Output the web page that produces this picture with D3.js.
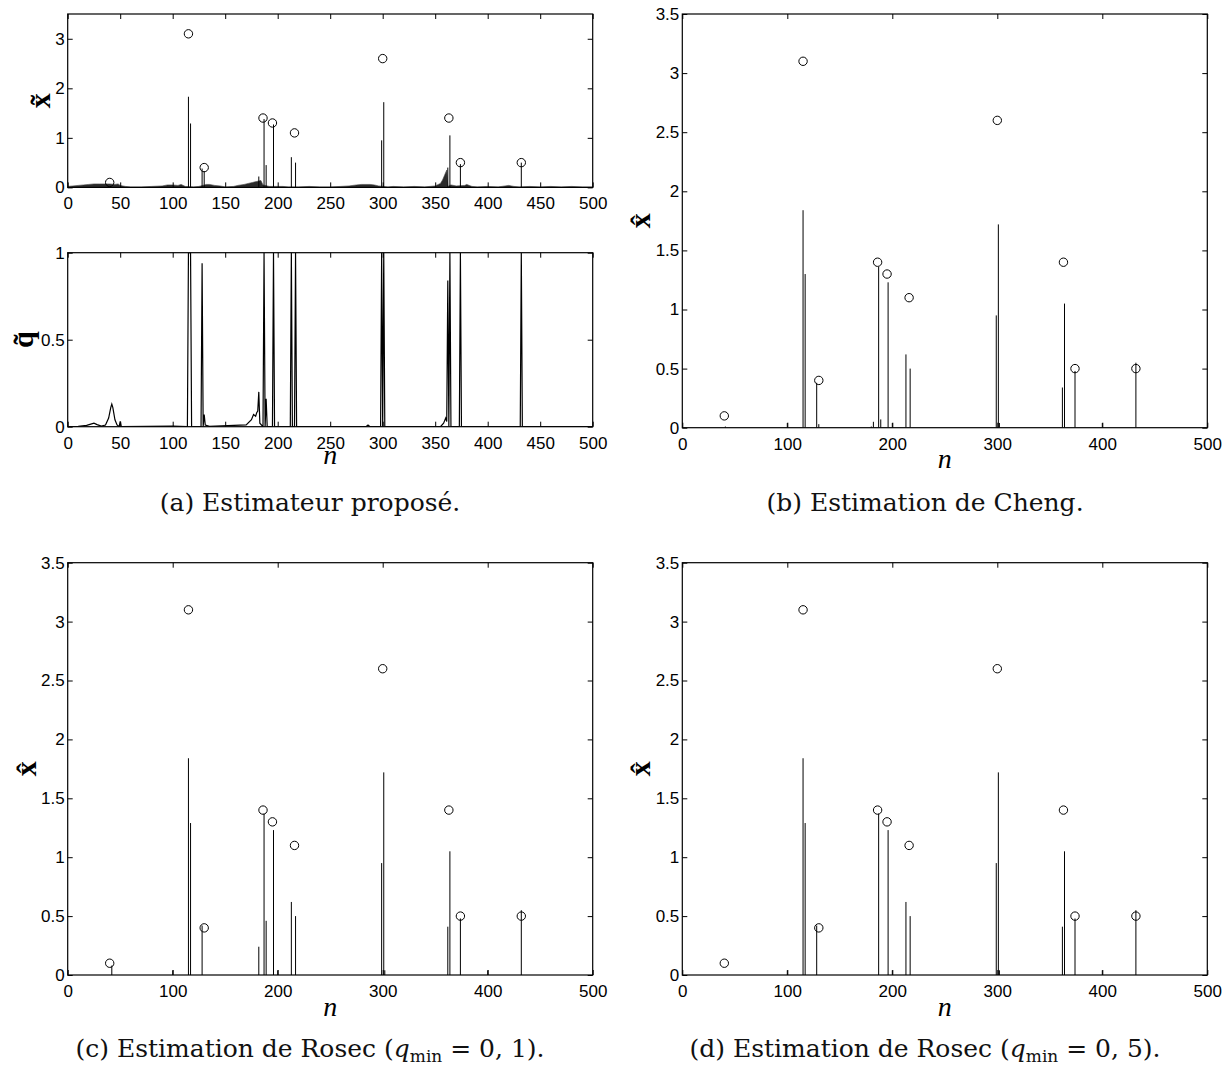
<!DOCTYPE html>
<html><head><meta charset="utf-8">
<script src="https://cdn.jsdelivr.net/npm/d3@7"></script>
<style>body{margin:0;background:#fff}svg{display:block}</style>
</head><body>
<script>
// ---- data ----
const xTicksA = [0,50,100,150,200,250,300,350,400,450,500];
const xTicksB = [0,100,200,300,400,500];
const yTicksA1 = [0,1,2,3];
const yTicksA2 = [0,0.5,1];
const yTicksB = [0,0.5,1,1.5,2,2.5,3,3.5];

// true signal (circles)
const trueN = [40,115,130,186,195,216,300,363,374,432];
const trueV = [0.1,3.1,0.4,1.4,1.3,1.1,2.6,1.4,0.5,0.5];

// (a) proposed estimator, main stems
const propN = [115,117,128,130,182,187,189,196,213,217,299,301,362,364,374,432];
const propV = [1.83,1.29,0.38,0.33,0.22,1.38,0.45,1.27,0.61,0.50,0.95,1.72,0.40,1.05,0.47,0.50];
// (a) proposed estimator, low-level floor envelope [n, value]
const floorN = [0,5,10,15,20,25,30,35,40,45,48,50,55,60,70,80,90,95,100,105,108,112,120,125,132,135,140,145,150,158,162,168,172,176,180,184,186,192,200,205,210,220,230,240,250,260,268,275,280,288,292,296,305,310,320,330,340,350,355,357,359,361,362,365,370,378,380,385,390,400,410,420,425,430,440,450,460,470,480,490,500];
const floorV = [0.02,0.03,0.04,0.05,0.06,0.07,0.07,0.07,0.07,0.06,0.07,0.04,0.02,0.01,0.01,0.02,0.03,0.05,0.05,0.04,0.06,0.02,0.01,0.02,0.06,0.06,0.04,0.03,0.01,0.02,0.04,0.06,0.08,0.1,0.12,0.14,0.05,0.02,0.02,0.02,0.01,0.01,0.02,0.01,0.01,0.02,0.03,0.05,0.06,0.06,0.05,0.03,0.01,0.02,0.01,0.02,0.01,0.03,0.08,0.15,0.25,0.35,0.02,0.05,0.03,0.04,0.06,0.02,0.01,0.02,0.01,0.04,0.02,0.01,0.02,0.01,0.02,0.01,0.02,0.01,0.01];

// (a) q~ curve
const qN = [0,10,18,22,25,28,32,36,39,41,42,43,45,47,49,50,51,100,114,115,117,118,127,128,129,130,131,135,170,175,177,179,180,181,182,183,186,187,188,189,190,195,196,197,212,213,214,216,217,218,284,286,288,298,299,300,301,302,355,358,360,361,362,363,364,365,373,374,375,431,432,433,500];
const qV = [0,0.002,0.008,0.015,0.02,0.012,0.003,0.01,0.05,0.11,0.13,0.11,0.04,0.01,0,0.03,0,0.003,0,1,1,0,0,0.94,0,0.07,0.01,0.002,0.01,0.04,0.07,0.06,0.08,0.09,0.2,0.02,0,1,0,0.16,0,0,1,0,0,1,0,0,1,0,0,0.01,0,0,1,0,1,0,0,0.02,0.05,0.03,0.84,0,1,0,0,1,0,0,1,0,0];

// (b) Cheng
const chengN = [41,100,115,117,128,130,180,182,187,189,196,200,213,217,299,301,302,362,364,374,400,432];
const chengV = [0.01,0.04,1.84,1.30,0.38,0.03,0.01,0.05,1.36,0.07,1.23,0.04,0.62,0.50,0.95,1.72,0.04,0.34,1.05,0.48,0.04,0.55];

// (c) Rosec q_min = 0,1
const rosec1N = [42,100,115,117,128,182,187,189,196,200,213,217,299,301,302,362,364,374,400,432];
const rosec1V = [0.08,0.04,1.84,1.29,0.42,0.24,1.37,0.46,1.23,0.04,0.62,0.50,0.95,1.72,0.04,0.41,1.05,0.48,0.04,0.55];

// (d) Rosec q_min = 0,5
const rosec5N = [100,115,117,128,187,196,200,213,217,299,301,302,362,364,374,400,432];
const rosec5V = [0.04,1.84,1.29,0.42,1.37,1.23,0.04,0.62,0.50,0.95,1.72,0.04,0.41,1.05,0.48,0.04,0.55];

// ---- drawing ----
const W = 1231, H = 1066;
const svg = d3.select("body").append("svg").attr("width", W).attr("height", H);
const TICKFONT = "'Liberation Sans', Arial, sans-serif";
const SERIF = "'Liberation Serif', 'Times New Roman', serif";
const CAPFONT = "'DejaVu Serif', serif";
const fmt = d3.format("~g");
let clipId = 0;

function panel(o) {
  const x = d3.scaleLinear().domain([0, 500]).range([o.x0, o.x1]);
  const y = d3.scaleLinear().domain([0, o.ymax]).range([o.y1, o.y0]);
  const g = svg.append("g");
  const id = "clip" + (clipId++);
  g.append("clipPath").attr("id", id).append("rect")
    .attr("x", o.x0).attr("y", o.y0).attr("width", o.x1 - o.x0).attr("height", o.y1 - o.y0);
  const plot = g.append("g").attr("clip-path", `url(#${id})`);

  const axB = g.append("g").attr("transform", `translate(0,${o.y1})`)
    .call(d3.axisBottom(x).tickValues(o.xticks).tickFormat(fmt).tickSizeInner(-5).tickSizeOuter(0).tickPadding(10));
  const axT = g.append("g").attr("transform", `translate(0,${o.y0})`)
    .call(d3.axisTop(x).tickValues(o.xticks).tickSizeInner(-5).tickSizeOuter(0).tickFormat(""));
  const axL = g.append("g").attr("transform", `translate(${o.x0},0)`)
    .call(d3.axisLeft(y).tickValues(o.yticks).tickFormat(fmt).tickSizeInner(-5).tickSizeOuter(0).tickPadding(3));
  const axR = g.append("g").attr("transform", `translate(${o.x1},0)`)
    .call(d3.axisRight(y).tickValues(o.yticks).tickSizeInner(-5).tickSizeOuter(0).tickFormat(""));
  [axB, axT, axL, axR].forEach(a => {
    a.select(".domain").remove();
    a.selectAll("line").attr("stroke", "#000").attr("stroke-width", 1);
    a.selectAll("text").attr("font-family", TICKFONT).attr("font-size", 17).attr("fill", "#000");
  });
  g.append("rect").attr("x", o.x0).attr("y", o.y0).attr("width", o.x1 - o.x0).attr("height", o.y1 - o.y0)
    .attr("fill", "none").attr("stroke", "#000").attr("stroke-width", 1.2);

  if (o.ylab) {
    g.append("text").attr("transform", `translate(${o.ylabX},${(o.y0 + o.y1) / 2}) rotate(-90)`)
      .attr("text-anchor", "middle").attr("font-family", SERIF).attr("font-weight", "bold")
      .attr("font-size", 30).text(o.ylab);
  }
  if (o.xlab) {
    g.append("text").attr("x", (o.x0 + o.x1) / 2).attr("y", o.y1 + o.xlabDy)
      .attr("text-anchor", "middle").attr("font-family", SERIF).attr("font-style", "italic")
      .attr("font-size", 28).text("n");
  }
  return { x, y, plot, g };
}

function stems(p, N, V) {
  p.plot.selectAll(null).data(N.map((n, i) => [n, V[i]])).enter().append("line")
    .attr("x1", d => p.x(d[0])).attr("x2", d => p.x(d[0]))
    .attr("y1", p.y(0)).attr("y2", d => p.y(d[1]))
    .attr("stroke", "#000").attr("stroke-width", 1);
}
function circles(p, N, V) {
  p.g.selectAll(null).data(N.map((n, i) => [n, V[i]])).enter().append("circle")
    .attr("cx", d => p.x(d[0])).attr("cy", d => p.y(d[1])).attr("r", 4.2)
    .attr("fill", "none").attr("stroke", "#000").attr("stroke-width", 1);
}
function caption(cx, y, parts) {
  const t = svg.append("text").attr("x", cx).attr("y", y).attr("text-anchor", "middle")
    .attr("font-family", CAPFONT).attr("font-size", 25).attr("fill", "#111");
  parts.forEach(pt => {
    const s = t.append("tspan").text(pt.t);
    if (pt.it) s.attr("font-style", "italic");
    if (pt.dy) s.attr("dy", pt.dy);
    if (pt.fs) s.attr("font-size", pt.fs);
  });
}

// (a) top
const pA1 = panel({ x0: 67.7, x1: 592.7, y0: 14, y1: 187.4, ymax: 3.5, xticks: xTicksA, yticks: yTicksA1,
  ylab: "x\u0303", ylabX: 50 });
pA1.plot.append("path").datum(floorN.map((n, i) => [n, floorV[i]]))
  .attr("d", d3.area().x(d => pA1.x(d[0])).y0(pA1.y(0)).y1(d => pA1.y(d[1])))
  .attr("fill", "#2a2a2a").attr("stroke", "#444").attr("stroke-width", 0.6);
stems(pA1, propN, propV);
circles(pA1, trueN, trueV);

// (a) bottom
const pA2 = panel({ x0: 67.7, x1: 592.7, y0: 252.7, y1: 426.7, ymax: 1, xticks: xTicksA, yticks: yTicksA2,
  ylab: "q\u0303", ylabX: 33, xlab: true, xlabDy: 37 });
pA2.plot.append("path").datum(qN.map((n, i) => [n, qV[i]]))
  .attr("d", d3.line().x(d => pA2.x(d[0])).y(d => pA2.y(d[1])))
  .attr("fill", "none").attr("stroke", "#000").attr("stroke-width", 1.2);

// (b)
const pB = panel({ x0: 682.3, x1: 1207.3, y0: 14, y1: 427.7, ymax: 3.5, xticks: xTicksB, yticks: yTicksB,
  ylab: "x\u0302", ylabX: 650, xlab: true, xlabDy: 40 });
stems(pB, chengN, chengV);
circles(pB, trueN, trueV);

// (c)
const pC = panel({ x0: 67.7, x1: 592.7, y0: 562.7, y1: 975, ymax: 3.5, xticks: xTicksB, yticks: yTicksB,
  ylab: "x\u0302", ylabX: 35.5, xlab: true, xlabDy: 41 });
stems(pC, rosec1N, rosec1V);
circles(pC, trueN, trueV);

// (d)
const pD = panel({ x0: 682.3, x1: 1207.3, y0: 562.7, y1: 975, ymax: 3.5, xticks: xTicksB, yticks: yTicksB,
  ylab: "x\u0302", ylabX: 650, xlab: true, xlabDy: 41 });
stems(pD, rosec5N, rosec5V);
circles(pD, trueN, trueV);

// captions
caption(310, 511, [{ t: "(a) Estimateur propos\u00e9." }]);
caption(925, 511, [{ t: "(b) Estimation de Cheng." }]);
caption(310, 1057, [{ t: "(c) Estimation de Rosec (" }, { t: "q", it: true }, { t: "min", fs: 17, dy: 5 }, { t: " = 0, 1).", dy: -5 }]);
caption(925, 1057, [{ t: "(d) Estimation de Rosec (" }, { t: "q", it: true }, { t: "min", fs: 17, dy: 5 }, { t: " = 0, 5).", dy: -5 }]);
</script>
</body></html>
